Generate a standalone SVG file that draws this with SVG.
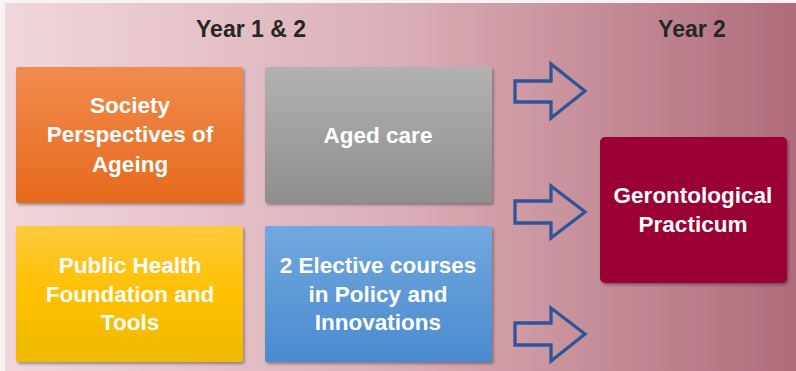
<svg xmlns="http://www.w3.org/2000/svg" width="796" height="371" viewBox="0 0 796 371">
<defs>
<linearGradient id="bg" x1="0" y1="0" x2="1" y2="0">
<stop offset="0" stop-color="#F0D7DC"/>
<stop offset="0.5" stop-color="#DBAEB6"/>
<stop offset="1" stop-color="#AF6C7B"/>
</linearGradient>
<linearGradient id="gOrange" x1="0" y1="0" x2="0" y2="1">
<stop offset="0" stop-color="#F18B4E"/>
<stop offset="1" stop-color="#E56A1C"/>
</linearGradient>
<linearGradient id="gGray" x1="0" y1="0" x2="0" y2="1">
<stop offset="0" stop-color="#B2B2B2"/>
<stop offset="1" stop-color="#8E8E8E"/>
</linearGradient>
<linearGradient id="gYellow" x1="0" y1="0" x2="0" y2="1">
<stop offset="0" stop-color="#FFC93C"/>
<stop offset="0.5" stop-color="#FFC000"/>
<stop offset="1" stop-color="#EDBB00"/>
</linearGradient>
<linearGradient id="gBlue" x1="0" y1="0" x2="0" y2="1">
<stop offset="0" stop-color="#71A9DE"/>
<stop offset="1" stop-color="#4A8ACF"/>
</linearGradient>
<filter id="sh" x="-10%" y="-10%" width="125%" height="125%">
<feDropShadow dx="1.5" dy="2" stdDeviation="1.8" flood-color="#000" flood-opacity="0.35"/>
</filter>
</defs>
<style>
.title{font-family:"Liberation Sans",Arial,sans-serif;font-weight:bold;font-size:23px;fill:#262626;text-anchor:middle}
.lbl{font-family:"Liberation Sans",Arial,sans-serif;font-weight:bold;font-size:22.5px;fill:#FFFFFF;text-anchor:middle}
.arrow{fill:none;stroke:#2F5597;stroke-width:3.3;stroke-linejoin:miter}
</style>
<rect x="0" y="0" width="796" height="371" fill="#F7F3F4"/>
<rect x="5" y="3" width="791" height="368" fill="url(#bg)"/>
<text class="title" x="251" y="37">Year 1 &amp; 2</text>
<text class="title" x="692" y="37">Year 2</text>
<g id="society">
<rect x="16" y="67" width="227" height="136" rx="2" fill="url(#gOrange)" filter="url(#sh)"/>
<text class="lbl" x="130" y="113">Society</text>
<text class="lbl" x="130" y="142">Perspectives of</text>
<text class="lbl" x="130" y="172">Ageing</text>
</g>
<g id="agedcare">
<rect x="265" y="67" width="227" height="136" rx="2" fill="url(#gGray)" filter="url(#sh)"/>
<text class="lbl" x="378" y="143">Aged care</text>
</g>
<g id="publichealth">
<rect x="16" y="226" width="227" height="136" rx="2" fill="url(#gYellow)" filter="url(#sh)"/>
<text class="lbl" x="130" y="273">Public Health</text>
<text class="lbl" x="130" y="302">Foundation and</text>
<text class="lbl" x="130" y="330">Tools</text>
</g>
<g id="electives">
<rect x="265" y="226" width="227" height="136" rx="2" fill="url(#gBlue)" filter="url(#sh)"/>
<text class="lbl" x="378" y="273">2 Elective courses</text>
<text class="lbl" x="378" y="302">in Policy and</text>
<text class="lbl" x="378" y="330">Innovations</text>
</g>
<g id="practicum">
<rect x="600" y="137" width="187" height="146" rx="5" fill="#9B0035" filter="url(#sh)"/>
<text class="lbl" x="693" y="203">Gerontological</text>
<text class="lbl" x="693" y="232">Practicum</text>
</g>
<g id="connectors">
<path class="arrow" d="M515,81 L551,81 L551,64 L585,91 L551,118 L551,102 L515,102 Z"/>
<path class="arrow" d="M515,201 L551,201 L551,186 L585,212 L551,238 L551,223 L515,223 Z"/>
<path class="arrow" d="M515,323 L551,323 L551,308 L585,334 L551,361 L551,345 L515,345 Z"/>
</g>
</svg>
